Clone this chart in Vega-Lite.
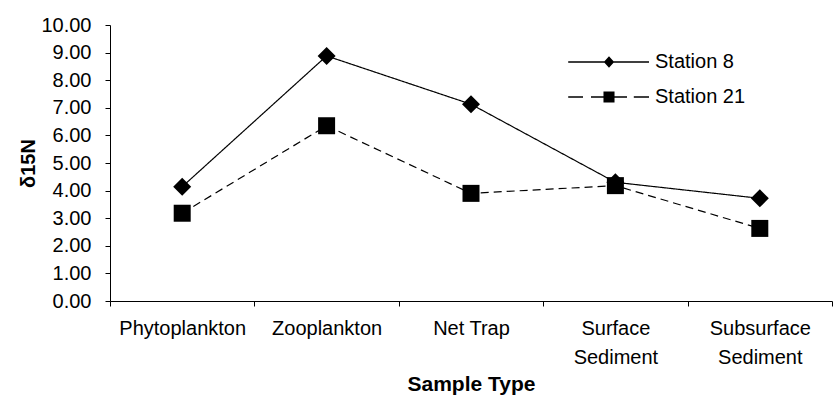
{
  "$schema": "https://vega.github.io/schema/vega-lite/v6.json",
  "width": 722,
  "height": 276,
  "autosize": {"type": "none"},
  "padding": {"left": 110, "top": 25, "right": 4, "bottom": 109},
  "background": "white",
  "config": {
    "font": "Liberation Sans",
    "view": {"stroke": null},
    "axis": {"grid": false, "domainColor": "black", "tickColor": "black", "labelColor": "black", "titleColor": "black", "labelFont": "Liberation Sans", "titleFont": "Liberation Sans"},
    "legend": {
      "symbolOpacity": 1,
      "symbolFillColor": "black",
      "symbolStrokeColor": "black",
      "symbolStrokeWidth": 0,
      "symbolSize": 256,
      "labelFontSize": 20,
      "labelColor": "black",
      "labelFont": "Liberation Sans",
      "padding": 0
    }
  },
  "data": {
    "values": [
      {"sample": "Phytoplankton", "station": "Station 8", "d15N": 4.14},
      {"sample": "Zooplankton", "station": "Station 8", "d15N": 8.88},
      {"sample": "Net Trap", "station": "Station 8", "d15N": 7.13},
      {"sample": "Surface Sediment", "station": "Station 8", "d15N": 4.30},
      {"sample": "Subsurface Sediment", "station": "Station 8", "d15N": 3.72},
      {"sample": "Phytoplankton", "station": "Station 21", "d15N": 3.18},
      {"sample": "Zooplankton", "station": "Station 21", "d15N": 6.35},
      {"sample": "Net Trap", "station": "Station 21", "d15N": 3.90},
      {"sample": "Surface Sediment", "station": "Station 21", "d15N": 4.18},
      {"sample": "Subsurface Sediment", "station": "Station 21", "d15N": 2.63}
    ]
  },
  "encoding": {
    "x": {
      "field": "sample",
      "type": "nominal",
      "sort": ["Phytoplankton", "Zooplankton", "Net Trap", "Surface Sediment", "Subsurface Sediment"],
      "scale": {"paddingInner": 0, "paddingOuter": 0},
      "axis": {
        "title": "Sample Type",
        "titleFontSize": 21,
        "titleFontWeight": "bold",
        "titlePadding": 6,
        "labelAngle": 0,
        "labelFontSize": 20,
        "labelLineHeight": 29,
        "labelPadding": 12,
        "tickSize": 5,
        "tickBand": "extent",
        "labelExpr": "indexof(datum.label, ' Sediment') > 0 ? [replace(datum.label, ' Sediment', ''), 'Sediment'] : datum.label"
      }
    },
    "y": {
      "field": "d15N",
      "type": "quantitative",
      "scale": {"domain": [0, 10], "nice": false},
      "axis": {
        "title": "δ15N",
        "titleFontSize": 20,
        "titleFontWeight": "bold",
        "titlePadding": 2,
        "values": [0, 1, 2, 3, 4, 5, 6, 7, 8, 9, 10],
        "format": ".2f",
        "labelFontSize": 20,
        "labelPadding": 14,
        "tickSize": 5
      }
    }
  },
  "layer": [
    {
      "mark": {"type": "line", "color": "black", "strokeWidth": 1.2},
      "encoding": {
        "strokeDash": {
          "field": "station",
          "type": "nominal",
          "scale": {"domain": ["Station 8", "Station 21"], "range": [[1, 0], [8, 5]]},
          "legend": {"title": null, "orient": "none", "legendX": 489, "legendY": 27, "labelOffset": 36, "rowPadding": 15}
        }
      }
    },
    {
      "transform": [{"filter": "datum.station === 'Station 8'"}],
      "mark": {"type": "point", "filled": true, "color": "black", "opacity": 1, "shape": "diamond", "size": 324}
    },
    {
      "transform": [{"filter": "datum.station === 'Station 21'"}],
      "mark": {"type": "point", "filled": true, "color": "black", "opacity": 1, "shape": "square", "size": 289}
    },
    {
      "mark": {"type": "point", "filled": true, "color": "black", "size": 0},
      "encoding": {
        "shape": {
          "field": "station",
          "type": "nominal",
          "scale": {
            "domain": ["Station 8", "Station 21"],
            "range": [
              "M-5.1,-0.08L5,-0.08L5,0.08L-5.1,0.08Z M0,-0.72L0.65,0L0,0.72L-0.65,0Z",
              "M-5.1,-0.08L-3.25,-0.08L-3.25,0.08L-5.1,0.08Z M-2.25,-0.08L2.25,-0.08L2.25,0.08L-2.25,0.08Z M3.1,-0.08L5,-0.08L5,0.08L3.1,0.08Z M-0.69,-0.69L0.69,-0.69L0.69,0.69L-0.69,0.69Z"
            ]
          },
          "legend": {"title": null, "orient": "none", "legendX": 489, "legendY": 27, "labelOffset": 36, "rowPadding": 15}
        }
      }
    }
  ]
}
